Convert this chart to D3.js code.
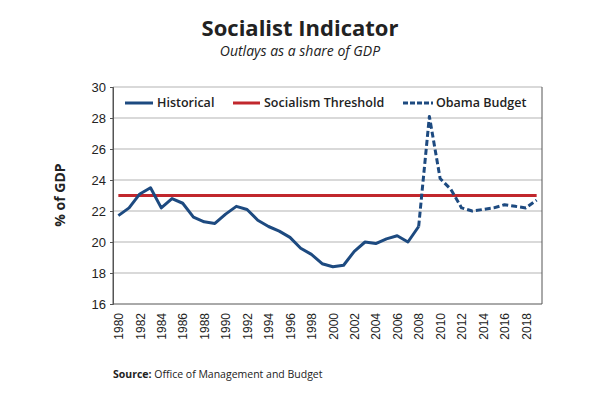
<!DOCTYPE html>
<html>
<head>
<meta charset="utf-8">
<script src="https://cdn.jsdelivr.net/npm/d3@7"></script>
<style>
  html, body { margin: 0; padding: 0; background: #fff; }
  svg { display: block; font-family: "Open Sans", "Noto Sans", sans-serif; }
</style>
</head>
<body>
<svg id="chart" width="600" height="400"></svg>
<script>
const years = d3.range(1980, 2020);
const historicalYears = d3.range(1980, 2009);
const historical = [21.7, 22.2, 23.1, 23.5, 22.2, 22.8, 22.5, 21.6, 21.3, 21.2,
                    21.8, 22.3, 22.1, 21.4, 21.0, 20.7, 20.3, 19.6, 19.2, 18.6,
                    18.4, 18.5, 19.4, 20.0, 19.9, 20.2, 20.4, 20.0, 21.0];
const budgetYears = d3.range(2008, 2020);
const obamaBudget = [21.0, 28.1, 24.1, 23.4, 22.2, 22.0, 22.1, 22.2, 22.4, 22.3, 22.2, 22.7];
const thresholdValue = 23;
const threshold = years.map(() => thresholdValue);
const yTicks = [16, 18, 20, 22, 24, 26, 28, 30];
const xTickYears = d3.range(1980, 2020, 2);
const legendLabels = ["Historical", "Socialism Threshold", "Obama Budget"];

const blue = "#1d4a80";
const red = "#c1272d";

const svg = d3.select("#chart");
const mLeft = 113, mRight = 542, mTop = 87, mBottom = 304;

const x = d3.scalePoint().domain(years).range([mLeft, mRight]).padding(0.5);
const y = d3.scaleLinear().domain([16, 30]).range([mBottom, mTop]);

// gridlines
svg.append("g").selectAll("line").data(yTicks.filter(t => t > 16)).join("line")
  .attr("x1", mLeft).attr("x2", mRight)
  .attr("y1", d => y(d)).attr("y2", d => y(d))
  .attr("stroke", "#b3b3b3").attr("stroke-width", 1);

// frame
svg.append("path")
  .attr("d", `M${mLeft},${mTop}V${mBottom}H${mRight}V${mTop}`)
  .attr("fill", "none").attr("stroke", "#555").attr("stroke-width", 1);

// y axis
const yAxis = svg.append("g").attr("transform", `translate(${mLeft},0)`)
  .call(d3.axisLeft(y).tickValues(yTicks).tickSize(3).tickPadding(4));
yAxis.select(".domain").attr("stroke", "#555");
yAxis.selectAll(".tick line").attr("stroke", "#555");
yAxis.selectAll("text").attr("font-size", 13).attr("fill", "#222");

// x axis
const xAxis = svg.append("g").attr("transform", `translate(0,${mBottom})`)
  .call(d3.axisBottom(x).tickValues(xTickYears).tickSize(0).tickPadding(0));
xAxis.select(".domain").remove();
xAxis.selectAll("text")
  .attr("transform", "rotate(-90)")
  .attr("text-anchor", "end")
  .attr("x", -9).attr("y", 0).attr("dy", "0.35em")
  .attr("font-size", 12).attr("fill", "#222");

// lines
const line = d3.line().x(d => x(d[0])).y(d => y(d[1]));
svg.append("path")
  .datum(years.map((yr, i) => [yr, threshold[i]]))
  .attr("d", line).attr("fill", "none").attr("stroke", red).attr("stroke-width", 3);
svg.append("path")
  .datum(historicalYears.map((yr, i) => [yr, historical[i]]))
  .attr("d", line).attr("fill", "none").attr("stroke", blue).attr("stroke-width", 3)
  .attr("stroke-linejoin", "round");
svg.append("path")
  .datum(budgetYears.map((yr, i) => [yr, obamaBudget[i]]))
  .attr("d", line).attr("fill", "none").attr("stroke", blue).attr("stroke-width", 3)
  .attr("stroke-dasharray", "6,3").attr("stroke-linejoin", "round");

// legend
const legend = [
  {label: legendLabels[0], color: blue, dash: null, x1: 125, x2: 153, tx: 157},
  {label: legendLabels[1], color: red, dash: null, x1: 233, x2: 260, tx: 264},
  {label: legendLabels[2], color: blue, dash: "5,2", x1: 403, x2: 433, tx: 436}
];
const lg = svg.append("g");
legend.forEach(l => {
  lg.append("line").attr("x1", l.x1).attr("x2", l.x2).attr("y1", 103).attr("y2", 103)
    .attr("stroke", l.color).attr("stroke-width", 3).attr("stroke-dasharray", l.dash);
  lg.append("text").attr("x", l.tx).attr("y", 103).attr("dy", "0.35em")
    .attr("font-size", 12.5).attr("font-weight", 600).attr("fill", "#222").text(l.label);
});

// titles
svg.append("text").attr("x", 300).attr("y", 36).attr("text-anchor", "middle")
  .attr("font-size", 22).attr("font-weight", 700).attr("fill", "#222").text("Socialist Indicator");
svg.append("text").attr("x", 300).attr("y", 56).attr("text-anchor", "middle")
  .attr("font-size", 14).attr("font-style", "italic").attr("fill", "#222").text("Outlays as a share of GDP");

svg.append("text").attr("transform", "translate(65,195) rotate(-90)").attr("text-anchor", "middle")
  .attr("font-size", 14).attr("font-weight", 700).attr("fill", "#222").text("% of GDP");

const src = svg.append("text").attr("x", 113).attr("y", 378).attr("font-size", 10.5).attr("fill", "#222");
src.append("tspan").attr("font-weight", 700).text("Source: ");
src.append("tspan").text("Office of Management and Budget");
</script>
</body>
</html>
